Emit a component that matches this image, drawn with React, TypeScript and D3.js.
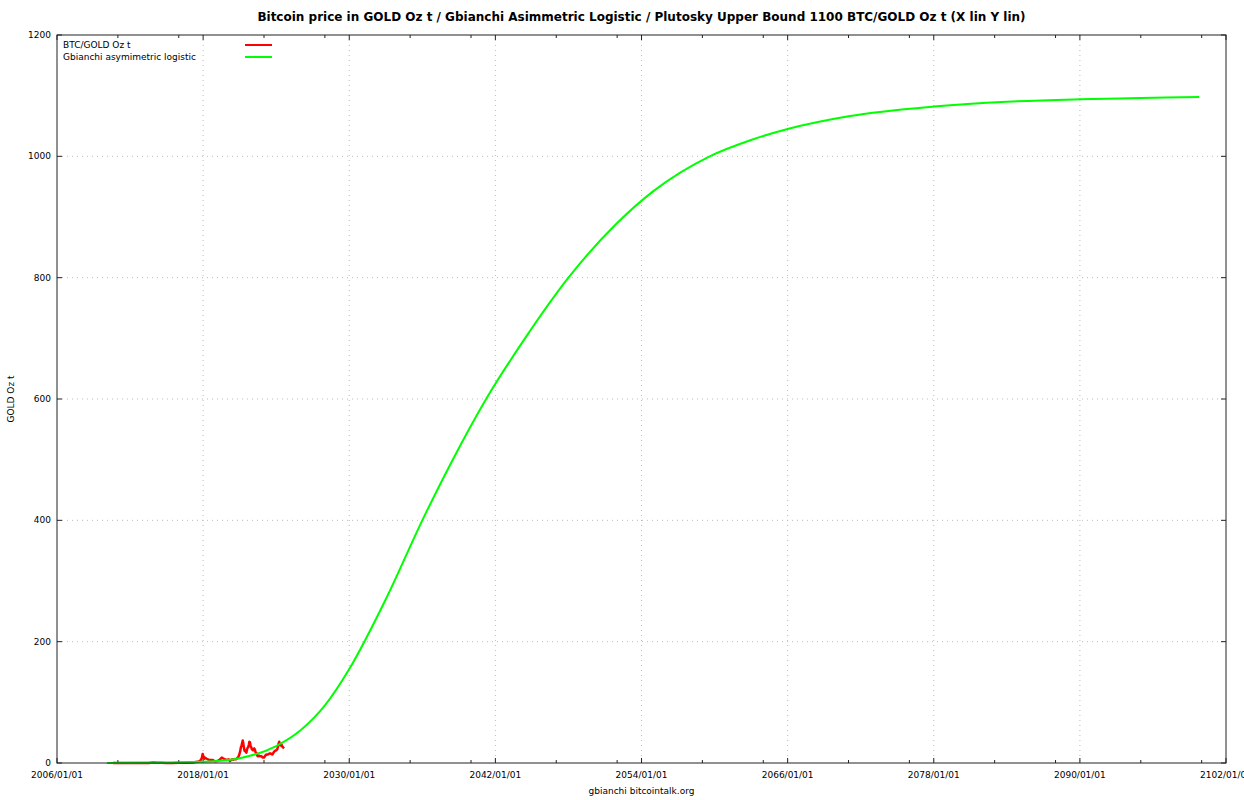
import React from "react";
import * as d3 from "d3";

const TITLE = "Bitcoin price in GOLD Oz t / Gbianchi Asimmetric Logistic / Plutosky Upper Bound 1100 BTC/GOLD Oz t (X lin Y lin)";
const X_LABEL = "gbianchi bitcointalk.org";
const Y_LABEL = "GOLD Oz t";
const LEGEND = ["BTC/GOLD Oz t", "Gbianchi asymimetric logistic"];
const COLORS = ["#ff0000", "#00ff00"];

const X_TICK_YEARS = [2006, 2018, 2030, 2042, 2054, 2066, 2078, 2090, 2102];
const X_MINOR_YEARS = [2011, 2016, 2023, 2028, 2035, 2040, 2047, 2052, 2059, 2064, 2071, 2076, 2083, 2088, 2095, 2100];
const Y_TICKS = [0, 200, 400, 600, 800, 1000, 1200];

// BTC / gold ratio, decimal years
const btcYears = [2010.6, 2011.0, 2011.45, 2011.8, 2012.5, 2013.0, 2013.3, 2013.5, 2013.9, 2014.2, 2014.5, 2015.0, 2015.5, 2016.0, 2016.5, 2017.0, 2017.2, 2017.4, 2017.55, 2017.7, 2017.8, 2017.9, 2017.96, 2018.0, 2018.05, 2018.1, 2018.15, 2018.2, 2018.3, 2018.4, 2018.5, 2018.65, 2018.8, 2018.9, 2018.97, 2019.1, 2019.25, 2019.35, 2019.45, 2019.5, 2019.55, 2019.6, 2019.7, 2019.8, 2019.9, 2020.0, 2020.1, 2020.2, 2020.3, 2020.4, 2020.5, 2020.6, 2020.7, 2020.8, 2020.9, 2020.97, 2021.05, 2021.1, 2021.15, 2021.2, 2021.25, 2021.3, 2021.35, 2021.4, 2021.45, 2021.5, 2021.55, 2021.6, 2021.65, 2021.7, 2021.75, 2021.8, 2021.85, 2021.9, 2021.95, 2022.0, 2022.1, 2022.2, 2022.25, 2022.3, 2022.4, 2022.45, 2022.5, 2022.6, 2022.7, 2022.8, 2022.85, 2022.9, 2023.0, 2023.1, 2023.2, 2023.3, 2023.4, 2023.5, 2023.6, 2023.7, 2023.8, 2023.9, 2024.0, 2024.1, 2024.2, 2024.25, 2024.3, 2024.35, 2024.4, 2024.45, 2024.5, 2024.55, 2024.6, 2024.65];
const btcValues = [0.0001, 0.0002, 0.02, 0.003, 0.006, 0.009, 0.1, 0.07, 0.9, 0.5, 0.5, 0.2, 0.2, 0.35, 0.5, 0.8, 1.0, 1.8, 2.0, 3.2, 4.5, 8.5, 15, 12, 9, 7, 9, 8, 7, 6, 5.5, 5, 5, 3.5, 3, 3, 4, 5.5, 7, 8.5, 9, 8, 7, 6, 5, 5.5, 6, 3.5, 5, 6, 5.5, 6.5, 6, 8, 10, 14, 20, 26, 28, 33, 37, 32, 25, 20, 21, 19, 17, 22, 25, 26, 30, 35, 34, 27, 26, 23, 21, 24, 22, 18, 16, 12, 11, 12, 11, 11, 10, 9, 9, 12, 14, 14, 15, 16, 15, 14, 18, 20, 21, 23, 32, 35, 31, 29, 30, 30, 27, 26, 25, 24];

// Gbianchi asymmetric logistic
const fitYears = [2010.1, 2014, 2018, 2021, 2024, 2026, 2028, 2030, 2033, 2036, 2038.5, 2041.3, 2044.5, 2048, 2052, 2055, 2059.6, 2063, 2066, 2071, 2078, 2084, 2090, 2095, 2099.8];
const fitValues = [0, 0.3, 2, 8, 28, 54, 95, 155, 270, 400, 500, 602, 702, 800, 890, 943, 1000, 1027, 1045, 1066, 1082, 1090, 1094, 1096, 1098];

const W = 1244, H = 800;
const M = { left: 57, right: 1226, top: 35, bottom: 763 };

function dec2date(y: number): Date {
  const yr = Math.floor(y);
  const start = Date.UTC(yr, 0, 1);
  const end = Date.UTC(yr + 1, 0, 1);
  return new Date(start + (y - yr) * (end - start));
}

export default function App() {
  const x = d3.scaleUtc().domain([new Date(Date.UTC(2006, 0, 1)), new Date(Date.UTC(2102, 0, 1))]).range([M.left, M.right]);
  const y = d3.scaleLinear().domain([0, 1200]).range([M.bottom, M.top]);
  const fmt = d3.utcFormat("%Y/%m/%d");

  const btc = btcYears.map((t, i) => [dec2date(t), btcValues[i]] as [Date, number]);
  const fit = fitYears.map((t, i) => [dec2date(t), fitValues[i]] as [Date, number]);
  const line = d3.line<[Date, number]>().x((d) => x(d[0])).y((d) => y(d[1]));
  const smooth = d3.line<[Date, number]>().x((d) => x(d[0])).y((d) => y(d[1])).curve(d3.curveMonotoneX);

  const font = "'DejaVu Sans', sans-serif";
  const axisColor = "#222";
  const gridColor = "#bbb";

  return (
    <svg width={W} height={H} style={{ position: "absolute", left: 0, top: 0, background: "#fff" }} fontFamily={font}>
      <rect x={0} y={0} width={W} height={H} fill="#fff" />
      {/* grid */}
      {X_TICK_YEARS.slice(1, -1).map((yr) => {
        const px = x(new Date(Date.UTC(yr, 0, 1)));
        return <line key={"gx" + yr} x1={px} x2={px} y1={M.top} y2={M.bottom} stroke={gridColor} strokeWidth={1} strokeDasharray="1,4" />;
      })}
      {Y_TICKS.slice(1, -1).map((v) => (
        <line key={"gy" + v} x1={M.left} x2={M.right} y1={y(v)} y2={y(v)} stroke={gridColor} strokeWidth={1} strokeDasharray="1,4" />
      ))}
      {/* ticks */}
      {X_TICK_YEARS.map((yr) => {
        const px = x(new Date(Date.UTC(yr, 0, 1)));
        return (
          <g key={"tx" + yr}>
            <line x1={px} x2={px} y1={M.bottom} y2={M.bottom - 5} stroke={axisColor} />
            <line x1={px} x2={px} y1={M.top} y2={M.top + 5} stroke={axisColor} />
            <text x={px} y={M.bottom + 15} fontSize={9} textAnchor="middle" fill="#000">{fmt(new Date(Date.UTC(yr, 0, 1)))}</text>
          </g>
        );
      })}
      {X_MINOR_YEARS.map((yr) => {
        const px = x(new Date(Date.UTC(yr, 0, 1)));
        return (
          <g key={"mx" + yr}>
            <line x1={px} x2={px} y1={M.bottom} y2={M.bottom - 3} stroke={axisColor} />
            <line x1={px} x2={px} y1={M.top} y2={M.top + 3} stroke={axisColor} />
          </g>
        );
      })}
      {Y_TICKS.map((v) => (
        <g key={"ty" + v}>
          <line x1={M.left} x2={M.left + 5} y1={y(v)} y2={y(v)} stroke={axisColor} />
          <line x1={M.right} x2={M.right - 5} y1={y(v)} y2={y(v)} stroke={axisColor} />
          <text x={M.left - 6} y={y(v) + 3} fontSize={9} textAnchor="end" fill="#000">{v}</text>
        </g>
      ))}
      {/* data */}
      <path d={line(btc) || ""} fill="none" stroke={COLORS[0]} strokeWidth={2.5} strokeLinejoin="round" />
      <path d={smooth(fit) || ""} fill="none" stroke={COLORS[1]} strokeWidth={2} />
      {/* border */}
      <rect x={M.left} y={M.top} width={M.right - M.left} height={M.bottom - M.top} fill="none" stroke={axisColor} strokeWidth={1} />
      {/* legend */}
      {LEGEND.map((name, i) => (
        <g key={"lg" + i}>
          <text x={63} y={48 + i * 12} fontSize={9} fill="#000">{name}</text>
          <line x1={245} x2={272} y1={45 + i * 12} y2={45 + i * 12} stroke={COLORS[i]} strokeWidth={2} />
        </g>
      ))}
      {/* labels */}
      <text x={(M.left + M.right) / 2} y={21} fontSize={12} fontWeight="bold" textAnchor="middle" fill="#000">{TITLE}</text>
      <text x={(M.left + M.right) / 2} y={794} fontSize={9} textAnchor="middle" fill="#000">{X_LABEL}</text>
      <text transform={`translate(14,${(M.top + M.bottom) / 2}) rotate(-90)`} fontSize={9} textAnchor="middle" fill="#000">{Y_LABEL}</text>
    </svg>
  );
}
